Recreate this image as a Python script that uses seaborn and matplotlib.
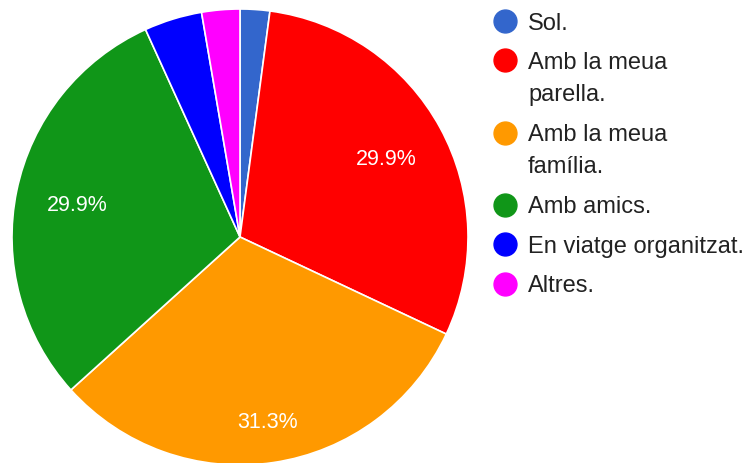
import matplotlib
matplotlib.use('Agg')
import numpy as np
import matplotlib.pyplot as plt
import seaborn as sns

labels = ['Sol.', 'Amb la meua\nparella.', 'Amb la meua\nfamília.', 'Amb amics.',
          'En viatge organitzat.', 'Altres.']
values = [2.1, 29.9, 31.3, 29.9, 4.1, 2.7]
colors = ['#3366cc', '#ff0000', '#ff9900', '#109618', '#0000ff', '#ff00ff']

sns.set_style('white')
plt.rcParams['font.family'] = ['Liberation Sans', 'DejaVu Sans']

W, H = 750, 463
fig = plt.figure(figsize=(W / 100, H / 100), dpi=100)

# pie centre ~ (240, 237) px, radius ~ 228 px
r = 228
ax = fig.add_axes([(240 - r) / W, (H - 237 - r) / H, 2 * r / W, 2 * r / H])
pal = sns.color_palette(colors)


def pct(p):
    return f'{p:.1f}%' if p > 10 else ''


wedges, _, autotexts = ax.pie(values, colors=pal, startangle=90, counterclock=False,
                              autopct=pct, pctdistance=0.73,
                              wedgeprops=dict(edgecolor='white', linewidth=1.2),
                              textprops=dict(color='white', fontsize=15.5))
# label radius per slice (the big orange one sits further out)
label_r = [0.73, 0.73, 0.81, 0.73, 0.73, 0.73]
half_cap = 8 / r  # baseline sits half a cap height below the anchor
for w, t, lr in zip(wedges, autotexts, label_r):
    th = np.deg2rad((w.theta1 + w.theta2) / 2)
    t.set_position((lr * np.cos(th), lr * np.sin(th) - half_cap))
    t.set_va('baseline')

ax.set_xlim(-1, 1)
ax.set_ylim(-1, 1)
ax.set_aspect('equal')
ax.axis('off')

# legend drawn by hand so the marker sits on the first line
y = 21
for lab, c in zip(labels, colors):
    lines = lab.split('\n')
    fig.lines.append(plt.Line2D([505 / W], [1 - y / H], marker='o', markersize=16.5,
                                color=c, transform=fig.transFigure, linestyle=''))
    for i, line in enumerate(lines):
        yy = y + 32 * i
        fig.text(528 / W, 1 - (yy + 8.5) / H, line, fontsize=17, color='#222222',
                 va='baseline', ha='left')
    y += 39.5 + 32.5 * (len(lines) - 1)

fig.savefig('out.png', dpi=100)
